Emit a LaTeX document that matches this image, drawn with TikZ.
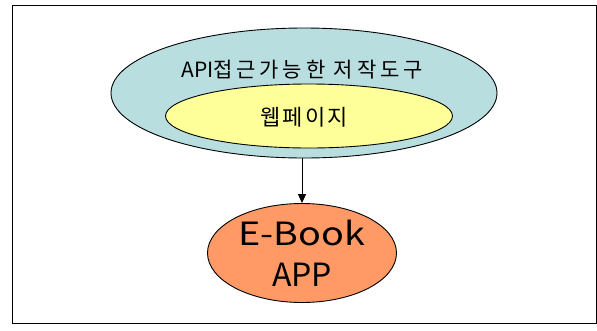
\documentclass[tikz,border=0pt]{standalone}
\usepackage{fontspec}
\setmainfont{Noto Sans CJK KR}
\usetikzlibrary{shapes.geometric,arrows.meta}
\definecolor{outerblue}{HTML}{B8DEE0}
\definecolor{inneryellow}{HTML}{FFFF99}
\definecolor{appsalmon}{HTML}{FF9966}
\tikzset{
  ell/.style={draw=black, line width=0.9pt, ellipse, inner sep=0pt},
}
\begin{document}
\begin{tikzpicture}[x=1pt,y=-1pt]
\useasboundingbox (0,0) rectangle (597,330);
\node[draw=black, line width=0.8pt, minimum width=584pt, minimum height=318pt, anchor=north west, inner sep=0pt] (frame) at (11.5,5) {};
\node[ell, fill=outerblue, minimum width=386pt, minimum height=130pt] (outer) at (304,93) {};
\node[ell, fill=inneryellow, minimum width=287pt, minimum height=64pt] (inner) at (309,116) {};
\node[inner sep=0pt, font=\fontsize{21}{24}\selectfont] (t1) at (302,70) {API{\addfontfeature{LetterSpace=18}접근가능한 저작도구}};
\node[inner sep=0pt, font=\fontsize{22}{26}\selectfont\addfontfeature{LetterSpace=10}] (t2) at (304,117) {웹페이지};
\node[ell, fill=appsalmon, minimum width=189pt, minimum height=99pt, align=center, font=\fontsize{32}{41}\selectfont] (app) at (302,253) {\scalebox{1.18}[1]{E-Book}\\APP};
\draw[line width=0.9pt, -{Triangle[length=9pt,width=8pt]}] (outer.south -| app.north) -- (app.north);
\end{tikzpicture}
\end{document}
